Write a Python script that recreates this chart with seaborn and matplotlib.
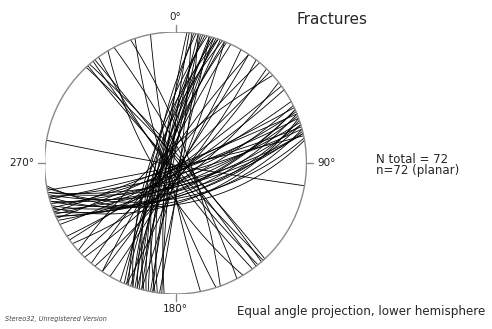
import numpy as np
import pandas as pd
import matplotlib
matplotlib.use("Agg")
import matplotlib.pyplot as plt
import seaborn as sns

# planes as dip direction / dip (degrees), grouped by set
nne_dipdir = [275, 278, 280, 282, 283, 285, 286, 287, 288, 289, 290, 291,
              292, 284, 281, 279, 293, 295, 276, 287, 289, 97, 100, 105]
nne_dip = [82, 78, 85, 80, 76, 83, 79, 74, 81, 77, 84, 72,
           80, 70, 88, 73, 78, 82, 86, 86, 69, 86, 84, 87]

ene_dipdir = [152, 154, 155, 156, 157, 158, 158, 159, 160, 161, 162, 163,
              164, 165, 165, 166, 167, 168, 169, 170, 160, 163, 156, 167]
ene_dip = [82, 74, 86, 68, 79, 64, 88, 72, 83, 62, 76, 70,
           85, 58, 80, 66, 73, 87, 60, 55, 57, 62, 67, 70]

nwse_dipdir = [47, 49, 52, 228, 231, 234]
nwse_dip = [86, 84, 88, 87, 85, 83]

nesw_dipdir = [120, 128, 136, 142, 146, 310, 318, 112, 124, 304, 134, 144]
nesw_dip = [85, 80, 88, 75, 82, 84, 78, 84, 86, 82, 80, 86]

other_dipdir = [239, 252, 259, 62, 70, 190]
other_dip = [72, 80, 84, 82, 78, 88]

dipdir = nne_dipdir + ene_dipdir + nwse_dipdir + nesw_dipdir + other_dipdir
dip = nne_dip + ene_dip + nwse_dip + nesw_dip + other_dip

title = "Fractures"
stats = "N total = 72\nn=72 (planar)"
footer = "Equal angle projection, lower hemisphere"
credit = "Stereo32, Unregistered Version"


def great_circle(dd, d, n=181):
    # lines lying in the plane, equal angle (stereographic) lower hemisphere
    dd_r, d_r = np.radians(dd), np.radians(d)
    st = dd_r - np.pi / 2
    s = np.array([np.sin(st), np.cos(st), 0.0])
    v = np.array([np.sin(dd_r) * np.cos(d_r), np.cos(dd_r) * np.cos(d_r), -np.sin(d_r)])
    t = np.linspace(0, np.pi, n)
    l = np.outer(np.cos(t), s) + np.outer(np.sin(t), v)
    plunge = np.arcsin(np.clip(-l[:, 2], -1, 1))
    trend = np.arctan2(l[:, 0], l[:, 1])
    r = np.tan((np.pi / 2 - plunge) / 2)
    return r * np.sin(trend), r * np.cos(trend)


rows = []
for i, (a, b) in enumerate(zip(dipdir, dip)):
    x, y = great_circle(a, b)
    rows.append(pd.DataFrame({"plane": i, "x": x, "y": y}))
df = pd.concat(rows, ignore_index=True)

sns.set_style("white")
fig = plt.figure(figsize=(4.92, 3.29), dpi=100)
ax = fig.add_axes([175.5 / 492 - 131 / 492, (329 - 163 - 131) / 329, 262 / 492, 262 / 329])

sns.lineplot(data=df, x="x", y="y", units="plane", estimator=None, sort=False,
             color="black", lw=0.6, ax=ax, legend=False)

th = np.linspace(0, 2 * np.pi, 400)
ax.plot(np.cos(th), np.sin(th), color="#8a8a8a", lw=1.0)
tick = 0.05
ax.plot([0, 0], [1, 1 + tick], color="#8a8a8a", lw=1.0, clip_on=False)
ax.plot([0, 0], [-1, -1 - tick], color="#8a8a8a", lw=1.0, clip_on=False)
ax.plot([1, 1 + tick], [0, 0], color="#8a8a8a", lw=1.0, clip_on=False)
ax.plot([-1, -1 - tick], [0, 0], color="#8a8a8a", lw=1.0, clip_on=False)

ax.text(0, 1.08, "0°", ha="center", va="bottom", fontsize=7.5, color="#222222")
ax.text(0, -1.08, "180°", ha="center", va="top", fontsize=7.5, color="#222222")
ax.text(1.08, 0, "90°", ha="left", va="center", fontsize=7.5, color="#222222")
ax.text(-1.08, 0, "270°", ha="right", va="center", fontsize=7.5, color="#222222")

ax.set_xlim(-1, 1)
ax.set_ylim(-1, 1)
ax.axis("off")

fig.text(297 / 492, 1 - 20 / 329, title, fontsize=11, ha="left", va="center")
fig.text(376 / 492, 1 - 165 / 329, stats, fontsize=8.5, ha="left", va="center",
         linespacing=0.85)
fig.text(237 / 492, 1 - 311 / 329, footer, fontsize=8.6, ha="left", va="center")
fig.text(5 / 492, 1 - 319 / 329, credit, fontsize=4.7, ha="left", va="center",
         style="italic", color="#444444")

fig.savefig("out.png", dpi=100)
